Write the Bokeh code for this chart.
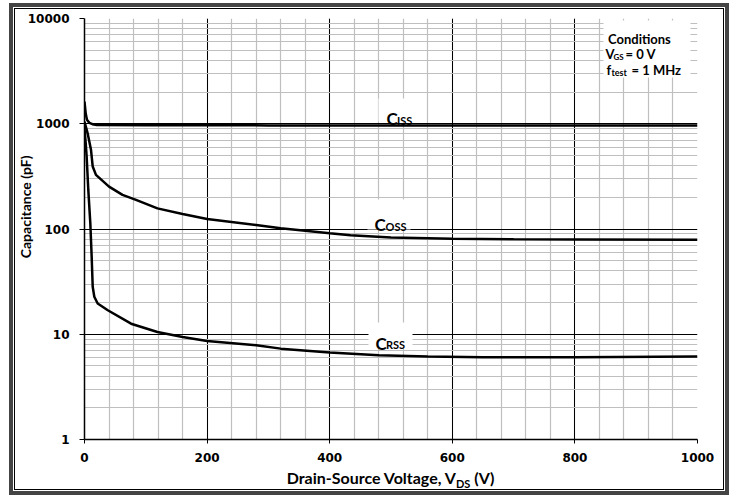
from bokeh.plotting import figure
from bokeh.layouts import column
from bokeh.models import Label, Div, FixedTicker, Range1d, NumeralTickFormatter
from bokeh.embed import file_html
from bokeh.resources import INLINE

# ---------------- data ----------------
vds_iss = [0, 2, 4, 8, 13, 20, 100, 300, 600, 1000]
c_iss = [1625, 1250, 1090, 1020, 990, 972, 968, 965, 962, 960]

vds_oss = [0, 5, 10.6, 13.4, 18.7, 40, 62, 84, 119, 160, 200, 280, 320, 400, 434,
           500, 600, 700, 800, 1000]
c_oss = [1050, 815, 565, 392, 327, 253, 211, 189, 157, 139, 124.5, 109, 101.6, 91, 87,
         83, 81, 80, 79.5, 79]

vds_rss = [0, 2, 3.5, 6.2, 9.5, 11.7, 13.4, 16, 21.5, 38, 76, 119, 160, 200, 280, 320,
           400, 480, 560, 650, 800, 1000]
c_rss = [900, 650, 488, 235, 113, 54.5, 28.3, 22.7, 19.6, 16.9, 12.6, 10.5, 9.43, 8.63,
         7.86, 7.3, 6.7, 6.3, 6.15, 6.05, 6.05, 6.15]

x_ticks = [0, 200, 400, 600, 800, 1000]
x_minor = [v for v in range(0, 1001, 40)]
y_ticks = [1, 10, 100, 1000, 10000]
y_minor = [m * d for d in [1, 10, 100, 1000] for m in range(2, 10)]

x_title = "Drain-Source Voltage, V"
x_title_sub = "DS"
x_title_end = " (V)"
y_title = "Capacitance (pF)"
cond_title = "Conditions"

# ---------------- layout geometry (page pixels) ----------------
OX, OY = 9, 3            # where the whole block sits on the page
W = 720
HP = 465                 # figure height
HD = 27                  # x-title strip height
FL, FR, FT, FB = 84, 697, 18, 439   # page pixel frame edges

p = figure(width=W, height=HP, y_axis_type="log",
           x_range=Range1d(0, 1000), y_range=Range1d(1, 10000),
           output_backend="svg", toolbar_location=None, title=None,
           min_border_left=FL - OX, min_border_right=OX + W - FR,
           min_border_top=FT - OY, min_border_bottom=OY + HP - FB)
p.border_fill_color = None
p.background_fill_color = "white"
p.outline_line_color = None

p.xaxis.ticker = FixedTicker(ticks=x_ticks, minor_ticks=x_minor)
p.yaxis.ticker = FixedTicker(ticks=y_ticks, minor_ticks=y_minor)
p.yaxis.formatter = NumeralTickFormatter(format="0")

for ax in (p.xaxis, p.yaxis):
    ax.axis_line_color = "black"
    ax.axis_line_width = 1.5
    ax.major_tick_line_color = "black"
    ax.major_tick_in = 0
    ax.minor_tick_line_color = None
    ax.major_label_text_font = "DejaVu Sans"
    ax.major_label_text_font_style = "bold"
    ax.major_label_text_font_size = "12px"
    ax.major_label_text_color = "black"
p.yaxis.major_tick_out = 5
p.xaxis.major_tick_out = 4
p.yaxis.major_label_standoff = 10
p.xaxis.major_label_standoff = 9

# leading no-break spaces move the centred title up the axis, as in the reference
p.yaxis.axis_label = "\u00a0" * 13 + y_title
p.yaxis.axis_label_text_font = "Lato"
p.yaxis.axis_label_text_font_style = "bold"
p.yaxis.axis_label_text_font_size = "14px"
p.yaxis.axis_label_text_color = "black"
p.yaxis.axis_label_standoff = -9

for g in (p.xgrid, p.ygrid):
    g.grid_line_color = "black"
    g.grid_line_width = 1
    g.minor_grid_line_color = "#bfbfbf"
    g.minor_grid_line_width = 1.2
    g.level = "underlay"


def xd(px):
    return (px - FL) / (FR - FL) * 1000.0


def yd(py):
    return 10 ** ((FB - py) / ((FB - FT) / 4.0))


# white boxes behind the in-plot labels (l, r, t, b in page px)
boxes = [(603, 690, 20, 77), (378, 420, 98, 121), (367, 410, 199, 229), (368, 412, 322, 348)]
p.quad(left=[xd(b[0]) for b in boxes], right=[xd(b[1]) for b in boxes],
       top=[yd(b[2]) for b in boxes], bottom=[yd(b[3]) for b in boxes],
       fill_color="white", fill_alpha=1, line_color=None)

for xs, ys in ((vds_iss, c_iss), (vds_oss, c_oss), (vds_rss, c_rss)):
    p.line(xs, ys, line_color="black", line_width=2.5)


def txt(px, py, s, size):
    p.add_layout(Label(x=xd(px), y=yd(py), text=s, text_font="Lato",
                       text_font_size=size, text_font_style="bold", text_color="black",
                       text_align="left", text_baseline="alphabetic"))


# conditions
txt(607.5, 38, cond_title, "13px")
txt(605, 53.5, "V", "13px")
txt(613, 56, "GS", "8px")
txt(625, 53.5, "= 0 V", "13px")
txt(606, 69.5, "f", "13px")
txt(611, 72, "test", "9px")
txt(631, 69.5, "= 1 MHz", "13px")

# curve labels
txt(386, 118, "C", "17px")
txt(396.5, 119.7, "ISS", "11px")
txt(374, 224, "C", "17px")
txt(385, 225.7, "OSS", "11px")
txt(375, 342.7, "C", "17px")
txt(385.5, 344.3, "RSS", "11px")

# x title strip (HTML text so the subscript is real); centred on the plot frame
pad_left = (FL + FR) - 2 * OX - W   # centre of the padded box = frame centre
d = Div(width=W, height=HD,
        text=(f'<div style="box-sizing:border-box;width:{W}px;padding-left:{pad_left}px;'
              'padding-top:2px;text-align:center;line-height:16px;white-space:nowrap;'
              'font-family:Lato;font-weight:bold;font-size:16px;color:black;margin:0">'
              f'{x_title}<span style="font-size:11px;line-height:0;vertical-align:-4px">'
              f'{x_title_sub}</span>{x_title_end}</div>'),
        styles={"margin": "0", "padding": "0"})

layout = column(p, d, spacing=0,
                styles={"margin-left": f"{OX}px", "margin-top": f"{OY}px",
                        "background-color": "white",
                        "box-shadow": "inset 0 0 0 4px #444444, inset 0 0 0 5px #ffffff, "
                                      "inset 0 0 0 6px #000000"})

open("out.html", "w").write(file_html(layout, INLINE))
